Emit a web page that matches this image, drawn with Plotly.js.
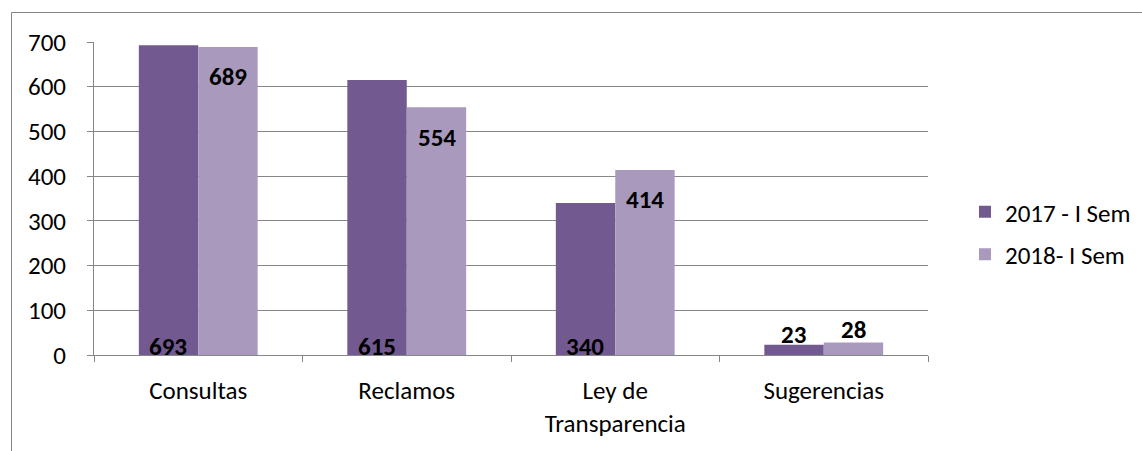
<!DOCTYPE html>
<html>
<head>
<meta charset="utf-8">
<script src="https://cdn.plot.ly/plotly-3.0.1.min.js"></script>
<style>html,body{margin:0;padding:0;background:#fff;}#chart{width:1142px;height:451px;}</style>
</head>
<body>
<div id="chart"></div>
<script>
const categories = ['Consultas', 'Reclamos', 'Ley de<br>Transparencia', 'Sugerencias'];
const series2017 = [693, 615, 340, 23];
const series2018 = [689, 554, 414, 28];
const seriesNames = ['2017 - I Sem', '2018- I Sem'];
const yTicks = [0, 100, 200, 300, 400, 500, 600, 700];

const FONT = 'Carlito, Calibri, Lato, sans-serif';
const labelFont = {family: FONT, size: 25, color: '#000000', weight: 'bold'};

const traces = [
  {
    type: 'bar', name: seriesNames[0], x: categories, y: series2017,
    marker: {color: '#72598F'}, legendgroup: 'a', hoverinfo: 'skip'
  },
  {
    type: 'bar', name: seriesNames[1], x: categories, y: series2018,
    marker: {color: '#A99ABD'}, legendgroup: 'b', hoverinfo: 'skip'
  }
];

// data labels: 2017 at inside base, 2018 at inside end; small bars get the label just above
const annotations = [];
categories.forEach((c, i) => {
  const a = series2017[i], b = series2018[i];
  annotations.push({
    x: c, y: a >= 100 ? 0 : a, xref: 'x', yref: 'y', text: String(a),
    showarrow: false, xanchor: 'center', yanchor: 'middle',
    xshift: -30, yshift: a >= 100 ? 9 : 10, font: labelFont
  });
  annotations.push({
    x: c, y: b, xref: 'x', yref: 'y', text: String(b),
    showarrow: false, xanchor: 'center', yanchor: 'middle',
    xshift: 30, yshift: b >= 100 ? -30 : 13, font: labelFont
  });
});

const L = 94, R = 214, T = 42, B = 96;
const W = 1142 - L - R, H = 451 - T - B;
const px = p => (p - L) / W;
const py = p => (451 - B - p) / H;

const layout = {
  width: 1142, height: 451,
  margin: {l: L, r: R, t: T, b: B, pad: 0, autoexpand: false},
  paper_bgcolor: '#ffffff', plot_bgcolor: '#ffffff',
  font: {family: FONT, size: 25, color: '#000000'},
  barmode: 'group', bargap: 0.43, bargroupgap: 0,
  showlegend: true,
  legend: {x: px(965), xanchor: 'left', y: py(233), yanchor: 'middle',
           font: {family: FONT, size: 25, color: '#000'}, traceorder: 'grouped',
           tracegroupgap: 7, itemwidth: 30, bgcolor: 'rgba(0,0,0,0)'},
  xaxis: {
    type: 'category', showgrid: false, zeroline: false,
    showline: true, linecolor: '#868686', linewidth: 1,
    ticks: 'outside', tickson: 'boundaries', ticklen: 6, tickcolor: '#868686',
    ticklabelstandoff: 13,
    tickfont: {family: FONT, size: 25, color: '#000'}, automargin: false
  },
  yaxis: {
    range: [0, 700], tickvals: yTicks, ticktext: yTicks.map(String),
    showgrid: true, gridcolor: '#868686', gridwidth: 1, zeroline: false,
    showline: true, linecolor: '#868686', linewidth: 1,
    ticks: 'outside', ticklen: 6, tickcolor: '#868686',
    ticklabelstandoff: 16,
    tickfont: {family: FONT, size: 25, color: '#000'}, automargin: false
  },
  annotations: annotations,
  shapes: [
    {type: 'line', xref: 'paper', yref: 'paper', x0: px(11.5), x1: px(1142), y0: py(12.5), y1: py(12.5),
     line: {color: '#868686', width: 1}},
    {type: 'line', xref: 'paper', yref: 'paper', x0: px(11.5), x1: px(11.5), y0: py(12.5), y1: py(451),
     line: {color: '#868686', width: 1}}
  ]
};

Plotly.newPlot('chart', traces, layout, {displayModeBar: false, staticPlot: true});
</script>
</body>
</html>
